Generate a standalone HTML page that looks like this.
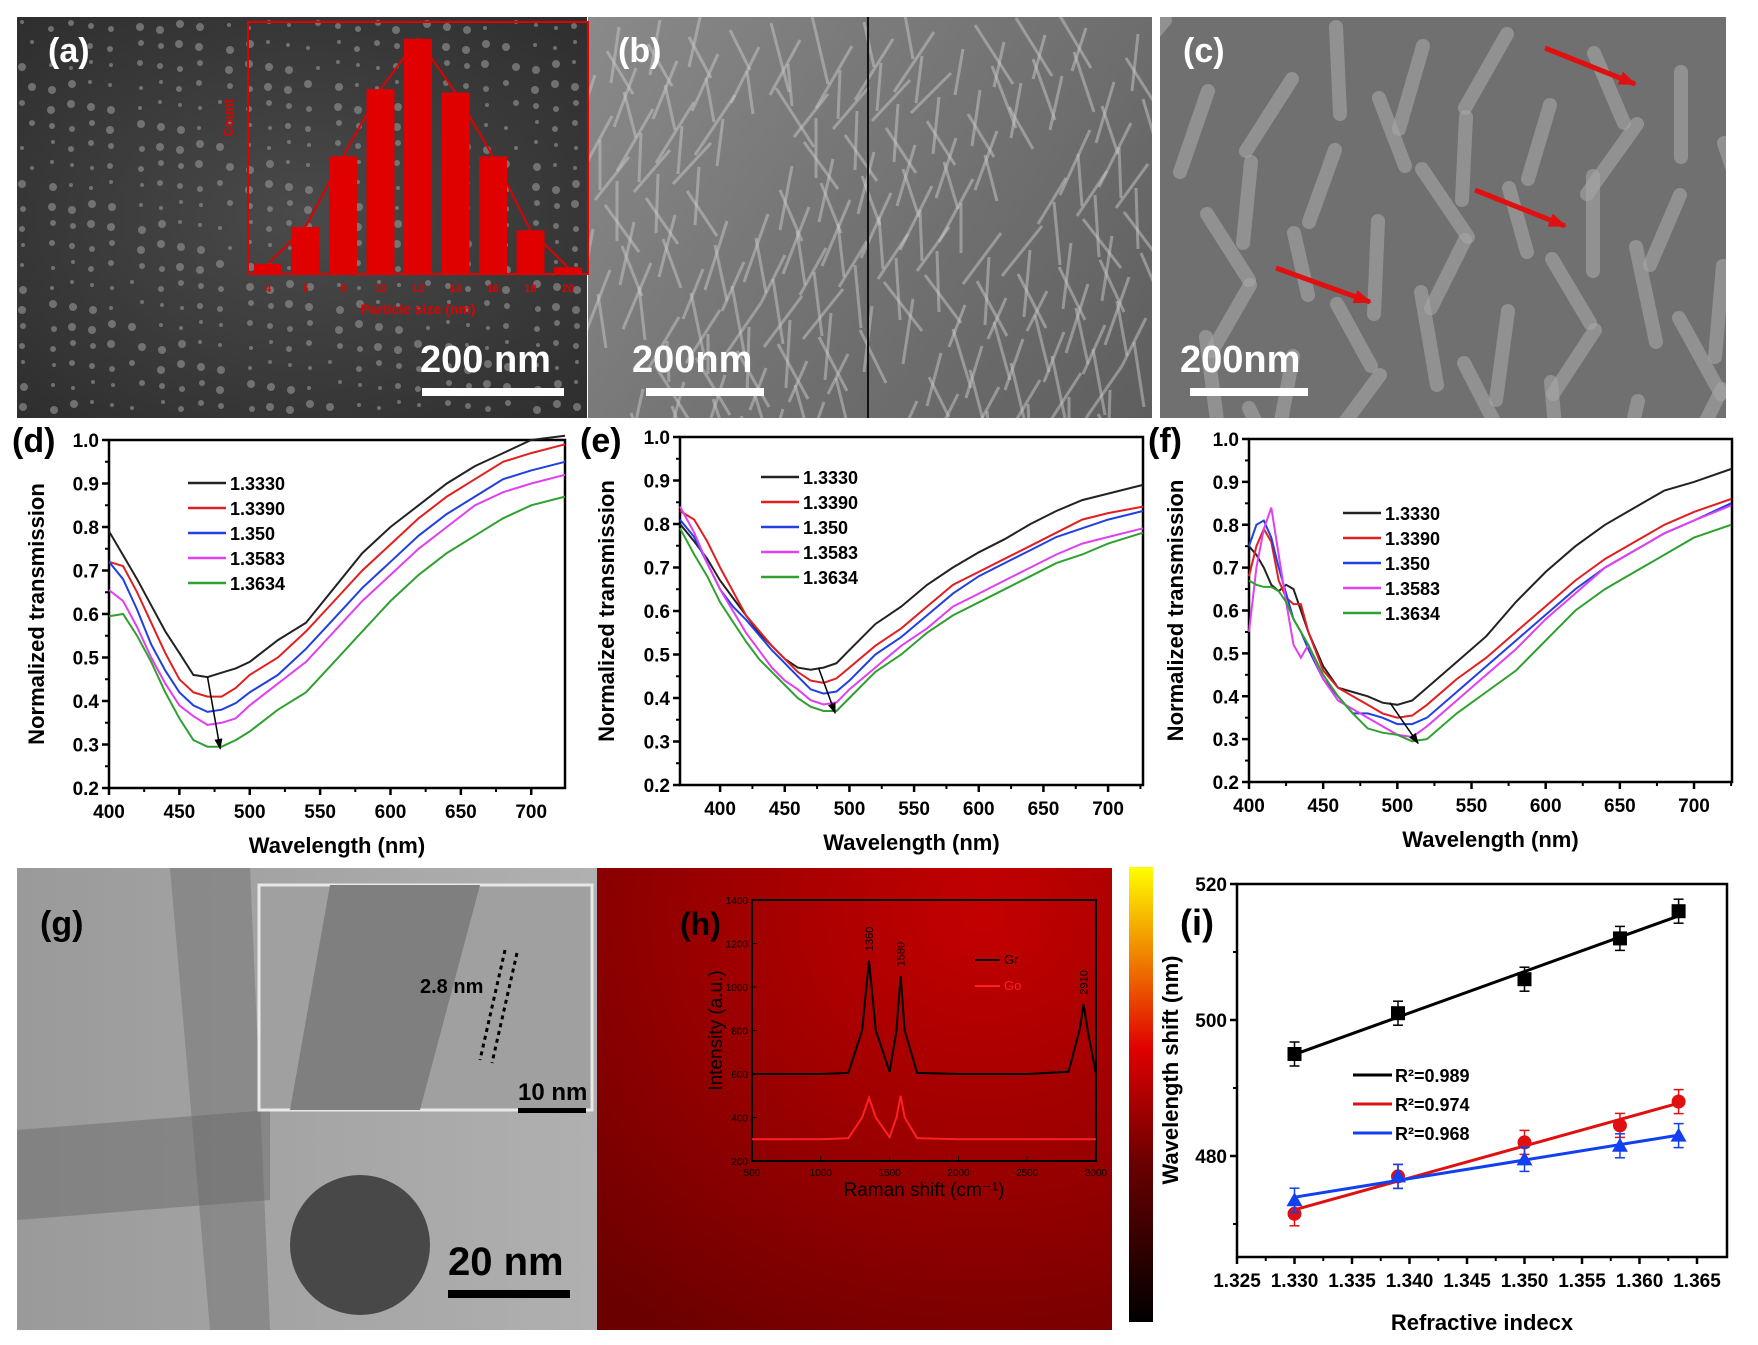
<!DOCTYPE html>
<html><head><meta charset="utf-8"><style>
html,body{margin:0;padding:0;background:#fff}
svg{display:block;font-family:"Liberation Sans",Arial,sans-serif}
</style></head><body>
<svg id="fig" width="1758" height="1345" viewBox="0 0 1758 1345" xmlns="http://www.w3.org/2000/svg">
<defs>
<radialGradient id="gA" cx="0.5" cy="0.5" r="0.7"><stop offset="0" stop-color="#4a4a4a"/><stop offset="1" stop-color="#2e2e2e"/></radialGradient>
<linearGradient id="gB" x1="0" y1="0" x2="1" y2="1"><stop offset="0" stop-color="#8a8a8a"/><stop offset="1" stop-color="#6a6a6a"/></linearGradient>
<linearGradient id="gC" x1="0" y1="0" x2="1" y2="1"><stop offset="0" stop-color="#7c7c7c"/><stop offset="1" stop-color="#5e5e5e"/></linearGradient>
<linearGradient id="gG" x1="0" y1="0" x2="1" y2="0"><stop offset="0" stop-color="#9a9a9a"/><stop offset="1" stop-color="#b0b0b0"/></linearGradient>
<radialGradient id="gH" cx="0.75" cy="0.1" r="1.1"><stop offset="0" stop-color="#c40000"/><stop offset="0.5" stop-color="#9a0000"/><stop offset="1" stop-color="#6a0000"/></radialGradient>
<linearGradient id="gCB" x1="0" y1="1" x2="0" y2="0"><stop offset="0" stop-color="#000"/><stop offset="0.35" stop-color="#6a0000"/><stop offset="0.6" stop-color="#e00000"/><stop offset="0.8" stop-color="#f08000"/><stop offset="1" stop-color="#ffff00"/></linearGradient>
<marker id="arr" markerUnits="userSpaceOnUse" markerWidth="12" markerHeight="12" refX="10" refY="6" orient="auto"><path d="M0,2 L11,6 L0,10 z" fill="#000"/></marker>
<marker id="arrR" markerUnits="userSpaceOnUse" markerWidth="20" markerHeight="20" refX="16" refY="10" orient="auto"><path d="M0,3 L18,10 L0,17 z" fill="#e01010"/></marker>
<clipPath id="clipB"><rect x="588" y="17" width="564" height="401"/></clipPath>
<clipPath id="clipC"><rect x="1160" y="17" width="566" height="401"/></clipPath>
</defs>

<rect x="17" y="17" width="570" height="401" fill="url(#gA)"/>
<g id="dotsA"></g>
<rect x="588" y="17" width="280" height="401" fill="url(#gB)"/>
<rect x="868" y="17" width="284" height="401" fill="url(#gC)"/>
<rect x="1160" y="17" width="566" height="401" fill="#707070"/>
<g id="texB" clip-path="url(#clipB)"></g>
<g id="texC" clip-path="url(#clipC)"></g>
<line x1="868" y1="17" x2="868" y2="418" stroke="#111" stroke-width="2"/>
<text x="48" y="62" font-size="34" font-weight="bold" fill="#fff">(a)</text>
<text x="618" y="62" font-size="34" font-weight="bold" fill="#fff">(b)</text>
<text x="1183" y="62" font-size="34" font-weight="bold" fill="#fff">(c)</text>
<text x="420" y="372" font-size="38" font-weight="bold" fill="#fff">200 nm</text>
<rect x="422" y="388" width="142" height="8" fill="#fff"/>
<text x="632" y="372" font-size="38" font-weight="bold" fill="#fff">200nm</text>
<rect x="646" y="388" width="118" height="8" fill="#fff"/>
<text x="1180" y="372" font-size="38" font-weight="bold" fill="#fff">200nm</text>
<rect x="1190" y="388" width="118" height="8" fill="#fff"/>
<g stroke="#e01010" stroke-width="5">
<line x1="1545" y1="48" x2="1635" y2="84" marker-end="url(#arrR)"/>
<line x1="1475" y1="190" x2="1565" y2="226" marker-end="url(#arrR)"/>
<line x1="1276" y1="268" x2="1370" y2="302" marker-end="url(#arrR)"/>
</g>
<g id="histA"></g>

<g id="chartD"></g><g id="chartE"></g><g id="chartF"></g>

<rect x="17" y="868" width="580" height="462" fill="url(#gG)"/>
<path d="M170,868 L250,868 L270,1330 L210,1330 Z" fill="#7a7a7a" opacity="0.6"/>
<path d="M17,1130 L270,1110 L270,1200 L17,1220 Z" fill="#6a6a6a" opacity="0.5"/>
<circle cx="360" cy="1245" r="70" fill="#484848"/>
<rect x="259" y="885" width="333" height="225" fill="#a0a0a0" stroke="#e8e8e8" stroke-width="3"/>
<path d="M330,885 L480,885 L420,1110 L290,1110 Z" fill="#7f7f7f"/>
<line x1="505" y1="950" x2="480" y2="1060" stroke="#000" stroke-width="3" stroke-dasharray="4,4"/>
<line x1="517" y1="953" x2="492" y2="1063" stroke="#000" stroke-width="3" stroke-dasharray="4,4"/>
<text x="420" y="993" font-size="20" font-weight="bold" fill="#000">2.8 nm</text>
<text x="518" y="1100" font-size="24" font-weight="bold" fill="#000">10 nm</text>
<rect x="518" y="1108" width="68" height="5" fill="#000"/>
<text x="40" y="935" font-size="34" font-weight="bold" fill="#000">(g)</text>
<text x="448" y="1275" font-size="40" font-weight="bold" fill="#000">20 nm</text>
<rect x="448" y="1290" width="122" height="8" fill="#000"/>

<rect x="597" y="868" width="515" height="462" fill="url(#gH)"/>
<rect x="1129" y="867" width="24" height="455" fill="url(#gCB)"/>
<text x="680" y="935" font-size="32" font-weight="bold" fill="#000">(h)</text>
<g id="chartH"></g>
<g id="chartI"></g>
</svg>
<script>
const histBins = [4,6,8,10,12,14,16,18,20];
const histCounts = [3,14,35,55,70,54,35,13,2];

const legendLabels = ['1.3330','1.3390','1.350','1.3583','1.3634'];
const seriesColors = ['#222222','#e02020','#2040e0','#e040f0','#30a030'];

const dWl = [400,410,420,430,440,450,460,470,480,490,500,520,540,560,580,600,620,640,660,680,700,724];
const dBlack = [0.79,0.735,0.68,0.62,0.56,0.51,0.46,0.455,0.465,0.475,0.49,0.54,0.58,0.66,0.74,0.80,0.85,0.90,0.94,0.97,1.0,1.01];
const dRed   = [0.72,0.71,0.65,0.58,0.51,0.45,0.42,0.41,0.41,0.43,0.46,0.50,0.56,0.63,0.70,0.76,0.82,0.87,0.91,0.95,0.97,0.99];
const dBlue  = [0.72,0.68,0.61,0.53,0.47,0.42,0.39,0.375,0.38,0.395,0.42,0.46,0.52,0.59,0.66,0.72,0.78,0.83,0.87,0.91,0.93,0.95];
const dMag   = [0.655,0.63,0.57,0.50,0.44,0.39,0.365,0.345,0.35,0.36,0.39,0.44,0.49,0.56,0.63,0.69,0.75,0.80,0.85,0.88,0.90,0.92];
const dGreen = [0.595,0.60,0.55,0.49,0.42,0.36,0.31,0.295,0.295,0.31,0.33,0.38,0.42,0.49,0.56,0.63,0.69,0.74,0.78,0.82,0.85,0.87];

const eWl = [369,380,390,400,410,420,430,440,450,460,470,480,490,500,520,540,560,580,600,620,640,660,680,700,727];
const eBlack = [0.80,0.76,0.72,0.67,0.63,0.59,0.55,0.52,0.49,0.47,0.465,0.47,0.48,0.51,0.57,0.61,0.66,0.70,0.735,0.765,0.80,0.83,0.855,0.87,0.89];
const eRed   = [0.83,0.81,0.76,0.70,0.645,0.59,0.555,0.52,0.49,0.46,0.44,0.435,0.445,0.47,0.52,0.56,0.61,0.66,0.69,0.72,0.75,0.78,0.81,0.825,0.84];
const eBlue  = [0.81,0.77,0.71,0.65,0.61,0.58,0.545,0.51,0.48,0.45,0.42,0.41,0.415,0.44,0.50,0.54,0.59,0.64,0.68,0.71,0.74,0.77,0.79,0.81,0.83];
const eMag   = [0.84,0.78,0.71,0.65,0.60,0.55,0.51,0.47,0.44,0.42,0.395,0.385,0.39,0.42,0.47,0.52,0.56,0.61,0.64,0.67,0.70,0.73,0.755,0.77,0.79];
const eGreen = [0.79,0.73,0.68,0.62,0.575,0.53,0.49,0.46,0.43,0.40,0.38,0.37,0.37,0.40,0.46,0.50,0.55,0.59,0.62,0.65,0.68,0.71,0.73,0.755,0.78];

const fWl = [400,405,410,415,420,425,430,435,440,450,460,470,480,490,500,510,520,540,560,580,600,620,640,660,680,700,725];
const fBlack = [0.75,0.73,0.70,0.66,0.645,0.66,0.65,0.60,0.55,0.47,0.42,0.41,0.40,0.385,0.38,0.39,0.42,0.48,0.54,0.62,0.69,0.75,0.80,0.84,0.88,0.90,0.93];
const fRed   = [0.68,0.75,0.79,0.76,0.67,0.63,0.615,0.615,0.55,0.46,0.42,0.40,0.38,0.36,0.35,0.355,0.38,0.44,0.49,0.55,0.61,0.67,0.72,0.76,0.80,0.83,0.86];
const fBlue  = [0.75,0.80,0.81,0.77,0.70,0.64,0.58,0.55,0.51,0.44,0.40,0.36,0.36,0.35,0.335,0.335,0.35,0.41,0.47,0.53,0.59,0.65,0.70,0.74,0.78,0.81,0.85];
const fMag   = [0.55,0.70,0.79,0.84,0.73,0.62,0.52,0.49,0.52,0.44,0.39,0.37,0.35,0.33,0.31,0.305,0.33,0.39,0.45,0.51,0.58,0.64,0.70,0.74,0.78,0.81,0.845];
const fGreen = [0.67,0.66,0.655,0.655,0.645,0.62,0.58,0.55,0.52,0.45,0.40,0.36,0.325,0.315,0.31,0.295,0.30,0.36,0.41,0.46,0.53,0.60,0.65,0.69,0.73,0.77,0.80];

const riX = [1.330,1.339,1.350,1.3583,1.3634];
const riBlack = [495,501,506,512,516];
const riRed = [471.5,477,482,484.5,488];
const riBlue = [473.5,477,479.5,481.5,483];
const riLabels = ['R²=0.989','R²=0.974','R²=0.968'];
const riXTicks = [1.325,1.330,1.335,1.340,1.345,1.350,1.355,1.360,1.365];
const riYTicks = [480,500,520];

const ramanShift = [500,1000,1200,1300,1350,1400,1500,1550,1580,1610,1700,2000,2500,2800,2880,2910,2940,3000];
const ramanGr = [600,600,605,800,1120,800,610,800,1050,800,605,600,600,610,800,920,800,600];
const ramanGo = [300,300,305,400,490,400,310,400,500,400,305,300,300,300,300,300,300,300];
const ramanXTicks = [500,1000,1500,2000,2500,3000];
const ramanYTicks = [200,400,600,800,1000,1200,1400];
const ramanPeaks = ['1360','1580','2910'];
const ramanPeakPos = [1350,1580,2910];

const transYTicks = [0.2,0.3,0.4,0.5,0.6,0.7,0.8,0.9,1.0];
const transXTicks = [400,450,500,550,600,650,700];

const NS='http://www.w3.org/2000/svg';
function mk(parent,tag,attrs){const e=document.createElementNS(NS,tag);for(const k in attrs)e.setAttribute(k,attrs[k]);parent.appendChild(e);return e;}
function txt(parent,x,y,s,size,anchor,fill,weight){const t=mk(parent,'text',{x:x,y:y,'font-size':size,'text-anchor':anchor||'start',fill:fill||'#000','font-weight':weight||'bold'});t.textContent=s;return t;}

(function(){const g=document.getElementById('dotsA');for(let i=0;i<26;i++)for(let j=0;j<20;j++){const h=(i*73+j*151)%97;const x=22+i*22+(h%11);const y=22+j*20+((h*7)%9);if(x<587&&y<418){mk(g,'circle',{cx:x,cy:y,r:2+h%3,fill:'#8a8a8a',opacity:0.7});}}
const t=document.getElementById('texB');for(let i=0;i<220;i++){const h=(i*89)%113;const x=590+(i*137)%560, y=10+(i*211)%410;mk(t,'line',{x1:x,y1:y,x2:x+((h%40)-20)*2,y2:y+40+h%30,stroke:'#c8c8c8','stroke-width':3,opacity:0.5});}
const c=document.getElementById('texC');for(let i=0;i<40;i++){const h=(i*61)%101;const x=1165+(i*43)%560,y=20+(i*71)%400;mk(c,'line',{x1:x,y1:y,x2:x+((h%50)-25)*2,y2:y+60+h%40,stroke:'#a8a8a8','stroke-width':14,opacity:0.6,'stroke-linecap':'round'});}})();

(function(){const g=document.getElementById('histA');
const L=248,R=588,T=22,B=274;
mk(g,'rect',{x:L,y:T,width:R-L,height:B-T,fill:'none',stroke:'#e00000','stroke-width':2});


const xs=v=>L+20+(v-4)/(20-4)*(R-L-40);
const ys=v=>B-v/75*(B-T);
const pts=[];
histBins.forEach((b,i)=>{const r=mk(g,'rect',{x:xs(b)-14,y:ys(histCounts[i]),width:28,height:B-ys(histCounts[i]),fill:'#e00000'});


pts.push(xs(b)+','+ys(histCounts[i]));
txt(g,xs(b),B+18,String(b),11,'middle','#e00000');});
mk(g,'polyline',{points:pts.join(' '),fill:'none',stroke:'#e00000','stroke-width':2});
const xt=txt(g,(L+R)/2,B+40,'Particle size (nm)',14,'middle','#e00000');


const yt=txt(g,0,0,'Count',13,'middle','#e00000');yt.setAttribute('transform','translate('+(L-15)+','+((T+B)/2-30)+') rotate(-90)');

})();

function transChart(id,cfg){
const g=document.getElementById(id);


const {L,R,T,B,xmin,xmax}=cfg;
const xs=v=>L+(v-xmin)/(xmax-xmin)*(R-L);
const ys=v=>B-(v-0.2)/0.8*(B-T);
mk(g,'rect',{x:L,y:T,width:R-L,height:B-T,fill:'#fff',stroke:'#000','stroke-width':2.5});
transYTicks.forEach(v=>{mk(g,'line',{x1:L-7,y1:ys(v),x2:L,y2:ys(v),stroke:'#000','stroke-width':2.5});
mk(g,'line',{x1:L-4,y1:ys(v+0.05),x2:L,y2:ys(v+0.05),stroke:'#000','stroke-width':2,opacity:v<1?1:0});
const t=txt(g,L-10,ys(v)+7,v.toFixed(1),19,'end');});
transXTicks.forEach(v=>{if(v<xmin)return;mk(g,'line',{x1:xs(v),y1:B,x2:xs(v),y2:B+7,stroke:'#000','stroke-width':2.5});
if(v+25<xmax)mk(g,'line',{x1:xs(v+25),y1:B,x2:xs(v+25),y2:B+4,stroke:'#000','stroke-width':2});
const t=txt(g,xs(v),B+30,String(v),19,'middle');});
const xt=txt(g,(L+R)/2,B+65,'Wavelength (nm)',22,'middle');


const yt=txt(g,0,0,'Normalized transmission',22,'middle');yt.setAttribute('transform','translate('+cfg.ytx+','+((T+B)/2)+') rotate(-90)');


cfg.series.forEach((s,i)=>{const p=mk(g,'polyline',{points:cfg.wl.map((w,j)=>xs(w).toFixed(1)+','+ys(s[j]).toFixed(1)).join(' '),fill:'none',stroke:seriesColors[i],'stroke-width':2});

});
mk(g,'line',{x1:xs(cfg.arrow[0]),y1:ys(cfg.arrow[1]),x2:xs(cfg.arrow[2]),y2:ys(cfg.arrow[3]),stroke:'#000','stroke-width':1.5,'marker-end':'url(#arr)'});
legendLabels.forEach((lab,i)=>{const y=cfg.legY+i*25;
const le=mk(g,'g',{});
mk(le,'line',{x1:cfg.legX,y1:y,x2:cfg.legX+38,y2:y,stroke:seriesColors[i],'stroke-width':2.5});
txt(le,cfg.legX+42,y+7,lab,18,'start');});
txt(g,cfg.lx,cfg.ly,cfg.letter,34,'start');
}
transChart('chartD',{name:'chart-d',L:109,R:565,T:440,B:788,xmin:400,xmax:724,ytx:44,wl:dWl,series:[dBlack,dRed,dBlue,dMag,dGreen],arrow:[470,0.455,479,0.29],legX:188,legY:483,letter:'(d)',lx:12,ly:452});
transChart('chartE',{name:'chart-e',L:680,R:1143,T:437,B:785,xmin:369,xmax:727,ytx:614,wl:eWl,series:[eBlack,eRed,eBlue,eMag,eGreen],arrow:[476,0.47,489,0.365],legX:761,legY:477,letter:'(e)',lx:580,ly:452});
transChart('chartF',{name:'chart-f',L:1249,R:1732,T:439,B:782,xmin:400,xmax:725.6,ytx:1183,wl:fWl,series:[fBlack,fRed,fBlue,fMag,fGreen],arrow:[495,0.385,514,0.29],legX:1343,legY:513,letter:'(f)',lx:1148,ly:452});

(function(){const g=document.getElementById('chartH');


const L=752,R=1096,T=900,B=1161;
const xs=v=>L+(v-500)/2500*(R-L);
const ys=v=>B-(v-200)/1200*(B-T);
mk(g,'rect',{x:L,y:T,width:R-L,height:B-T,fill:'none',stroke:'#000','stroke-width':2});
ramanXTicks.forEach(v=>{mk(g,'line',{x1:xs(v),y1:B,x2:xs(v),y2:B-5,stroke:'#000'});txt(g,xs(v),B+15,String(v),10,'middle','#000','normal');});
ramanYTicks.forEach(v=>{mk(g,'line',{x1:L,y1:ys(v),x2:L+5,y2:ys(v),stroke:'#000'});txt(g,L-4,ys(v)+4,String(v),10,'end','#000','normal');});
const pg=mk(g,'polyline',{points:ramanShift.map((w,j)=>xs(w).toFixed(1)+','+ys(ramanGr[j]).toFixed(1)).join(' '),fill:'none',stroke:'#000','stroke-width':2});


const po=mk(g,'polyline',{points:ramanShift.map((w,j)=>xs(w).toFixed(1)+','+ys(ramanGo[j]).toFixed(1)).join(' '),fill:'none',stroke:'#ff2020','stroke-width':2});


ramanPeaks.forEach((p,i)=>{const t=txt(g,0,0,p,11,'middle','#000','normal');t.setAttribute('transform','translate('+(xs(ramanPeakPos[i])+4)+','+(ys(ramanGr[ramanShift.indexOf(ramanPeakPos[i])])-22)+') rotate(-90)');});
mk(g,'line',{x1:975,y1:960,x2:1000,y2:960,stroke:'#000','stroke-width':2});txt(g,1004,964,'Gr',13,'start','#000','normal');
mk(g,'line',{x1:975,y1:986,x2:1000,y2:986,stroke:'#ff2020','stroke-width':2});txt(g,1004,990,'Go',13,'start','#ff2020','normal');
txt(g,(L+R)/2,B+35,'Raman shift (cm⁻¹)',19,'middle','#000','normal');
const yt=txt(g,0,0,'Intensity (a.u.)',19,'middle','#000','normal');yt.setAttribute('transform','translate('+(L-30)+','+((T+B)/2)+') rotate(-90)');})();

(function(){const g=document.getElementById('chartI');


const L=1237,R=1727,T=884,B=1257;
const xs=v=>L+(v-1.325)/0.040*(1697-L);
const ys=v=>1156-(v-480)/20*136;
mk(g,'rect',{x:L,y:T,width:R-L,height:B-T,fill:'#fff',stroke:'#000','stroke-width':2.5});
riXTicks.forEach(v=>{mk(g,'line',{x1:xs(v),y1:B,x2:xs(v),y2:B+7,stroke:'#000','stroke-width':2.5});
const t=txt(g,xs(v),B+30,v.toFixed(3),19,'middle');});
for(let k=0;k<8;k++){const v=1.3275+k*0.005;mk(g,'line',{x1:xs(v),y1:B,x2:xs(v),y2:B+4,stroke:'#000','stroke-width':2});}
riYTicks.forEach(v=>{mk(g,'line',{x1:L-7,y1:ys(v),x2:L,y2:ys(v),stroke:'#000','stroke-width':2.5});
mk(g,'line',{x1:L-4,y1:ys(v-10),x2:L,y2:ys(v-10),stroke:'#000','stroke-width':2});
const t=txt(g,L-10,ys(v)+7,String(v),19,'end');});
const xt=txt(g,(L+R)/2,1330,'Refractive indecx',22,'middle');


const yt=txt(g,0,0,'Wavelength shift (nm)',22,'middle');yt.setAttribute('transform','translate(1178,1070) rotate(-90)');


txt(g,1180,935,'(i)',36,'start');
const cols=['#000','#e01010','#1040f0'];
[riBlack,riRed,riBlue].forEach((s,i)=>{
const n=riX.length,mx=riX.reduce((a,b)=>a+b)/n,my=s.reduce((a,b)=>a+b)/n;
let sxy=0,sxx=0;riX.forEach((x,j)=>{sxy+=(x-mx)*(s[j]-my);sxx+=(x-mx)*(x-mx);});
const m=sxy/sxx,c=my-m*mx;
const fl=mk(g,'line',{x1:xs(riX[0]),y1:ys(m*riX[0]+c),x2:xs(riX[n-1]),y2:ys(m*riX[n-1]+c),stroke:cols[i],'stroke-width':3});


riX.forEach((x,j)=>{const cx=xs(x),cy=ys(s[j]);
mk(g,'line',{x1:cx,y1:cy-12,x2:cx,y2:cy+12,stroke:cols[i],'stroke-width':1.5});
mk(g,'line',{x1:cx-5,y1:cy-12,x2:cx+5,y2:cy-12,stroke:cols[i],'stroke-width':1.5});
mk(g,'line',{x1:cx-5,y1:cy+12,x2:cx+5,y2:cy+12,stroke:cols[i],'stroke-width':1.5});
let p;
if(i===0)p=mk(g,'rect',{x:cx-7,y:cy-7,width:14,height:14,fill:'#000'});
else if(i===1)p=mk(g,'circle',{cx:cx,cy:cy,r:7,fill:'#e01010'});
else p=mk(g,'polygon',{points:(cx)+','+(cy-8)+' '+(cx-8)+','+(cy+6)+' '+(cx+8)+','+(cy+6),fill:'#1040f0'});

});
const ly=1075+i*29;
const le=mk(g,'g',{});


mk(le,'line',{x1:1353,y1:ly,x2:1392,y2:ly,stroke:cols[i],'stroke-width':3});
txt(le,1395,ly+7,riLabels[i],18,'start');});})();
</script>
</body></html>
